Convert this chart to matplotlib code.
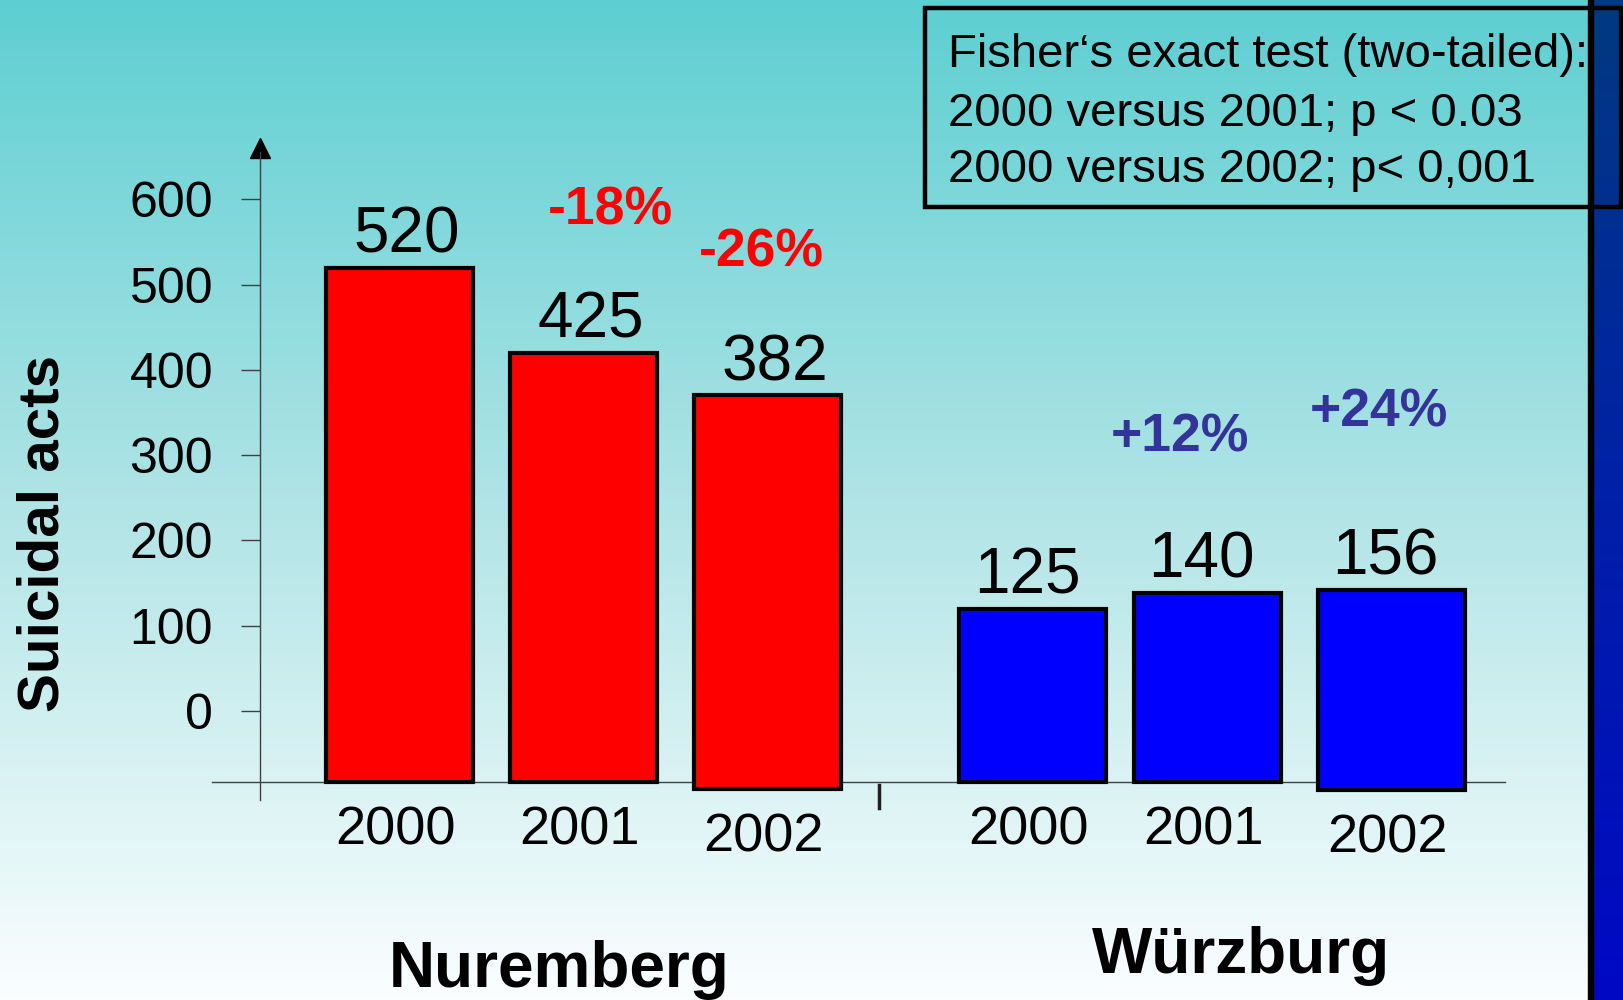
import numpy as np
import matplotlib.pyplot as plt
from matplotlib import font_manager
from matplotlib.colors import LinearSegmentedColormap
from matplotlib.patches import Rectangle

# data
cities = ['Nuremberg', 'Würzburg']
years = ['2000', '2001', '2002', '2000', '2001', '2002']
bar_heights = [520, 420, 370, 120, 138, 142]      # heights as drawn
bar_labels = ['520', '425', '382', '125', '140', '156']
bar_bottoms = [-83, -83, -91, -83, -83, -93]      # bars hang below the 0 tick
bar_colors = ['#ff0000'] * 3 + ['#0000ff'] * 3
changes = ['-18%', '-26%', '+12%', '+24%']
change_colors = ['#ff0000', '#ff0000', '#333399', '#333399']
yticks = [0, 100, 200, 300, 400, 500, 600]
fisher_lines = ['Fisher\u2018s exact test (two-tailed):',
                '2000 versus 2001; p < 0.03',
                '2000 versus 2002; p< 0,001']

plt.rcParams['font.family'] = ['Liberation Sans', 'DejaVu Sans']

# year labels use a narrow face on the slide, if there is one
try:
    font_manager.findfont('Liberation Sans Narrow', fallback_to_default=False)
    year_font, year_size = 'Liberation Sans Narrow', 44
except ValueError:
    year_font, year_size = 'Liberation Sans', 39

W, H = 1624, 1000
fig = plt.figure(figsize=(W / 100, H / 100), dpi=100)

# slide background gradient
bg = fig.add_axes([0, 0, 1, 1], zorder=0)
bg_cmap = LinearSegmentedColormap.from_list('bg', ['#5dcfd2', '#b0e4e6', '#fbfeff'])
bg.imshow(np.linspace(0, 1, 256).reshape(-1, 1), aspect='auto', cmap=bg_cmap,
          extent=[0, 1, 0, 1])
bg.axis('off')

# dark blue stripe on the right
st = fig.add_axes([1593 / W, 0, 31 / W, 1], zorder=2)
st_cmap = LinearSegmentedColormap.from_list('st', ['#003a80', '#0020a8', '#0008c4'])
st.imshow(np.linspace(0, 1, 256).reshape(-1, 1), aspect='auto', cmap=st_cmap,
          extent=[0, 1, 0, 1])
st.axis('off')
fig.add_artist(Rectangle((1588 / W, 0), 5 / W, 1, transform=fig.transFigure,
                         color='black', zorder=3))

# main chart
ax = fig.add_axes([0, 0, 1, 1], zorder=1)
ax.patch.set_visible(False)
ax.set_xlim(-2.171, 6.655)
ax.set_ylim(-338.9, 833.7)

x = [0, 1, 2, 3.44, 4.39, 5.39]
heights = [h - b for h, b in zip(bar_heights, bar_bottoms)]
ax.bar(x, heights, bottom=bar_bottoms, width=0.80, color=bar_colors,
       edgecolor='black', linewidth=3, zorder=3)

for i, (xi, h, b, lab, yr) in enumerate(zip(x, bar_heights, bar_bottoms, bar_labels, years)):
    dx = 0.04 if i < 3 else -0.03
    ax.text(xi + dx, h + 38, lab, ha='center', va='center', fontsize=46)
    ax.text(xi - 0.02, b - 57, yr, ha='center', va='center', fontsize=year_size,
            family=year_font)

change_pos = [(1.144, 587), (1.965, 538), (4.242, 321), (5.321, 350)]
for (cx, cy), txt, c in zip(change_pos, changes, change_colors):
    ax.text(cx, cy, txt, ha='center', va='center', fontsize=38.5,
            fontweight='bold', color=c)

ax.text(0.867, -303.7, cities[0], ha='center', va='center', fontsize=46, fontweight='bold')
ax.text(4.573, -287.3, cities[1], ha='center', va='center', fontsize=46, fontweight='bold')

# axes lines
for s in ['top', 'right']:
    ax.spines[s].set_visible(False)
ax.spines['left'].set_position(('data', -0.758))
ax.spines['left'].set_bounds(-104, 655)
ax.spines['bottom'].set_position(('data', -82.7))
ax.spines['bottom'].set_bounds(-1.019, 6.008)
for s in ['left', 'bottom']:
    ax.spines[s].set_color('#404040')
    ax.spines[s].set_linewidth(1.0)
ax.plot([-0.758], [660], marker='^', markersize=15, color='black', clip_on=False)
ax.plot([2.606, 2.606], [-87, -114], color='#202020', linewidth=2.5)

ax.set_xticks([])
ax.set_yticks(yticks)
ax.set_yticklabels([str(t) for t in yticks])
ax.tick_params(axis='y', length=13.7, width=1.0, color='#404040', pad=20, labelsize=36)

fig.text(43.5 / W, 1 - 533 / H, 'Suicidal acts', rotation=90, ha='center', va='center',
         fontsize=42, fontweight='bold')

# Fisher test box
fig.add_artist(Rectangle((925 / W, 1 - 207 / H), (1621 - 925) / W, 199 / H,
                         transform=fig.transFigure, fill=False, edgecolor='black',
                         linewidth=3.2, zorder=4))
for yy, line in zip([55, 114, 170], fisher_lines):
    fig.text(948 / W, 1 - yy / H, line, ha='left', va='center', fontsize=34, zorder=1.5)

fig.savefig('out.png', dpi=100)
